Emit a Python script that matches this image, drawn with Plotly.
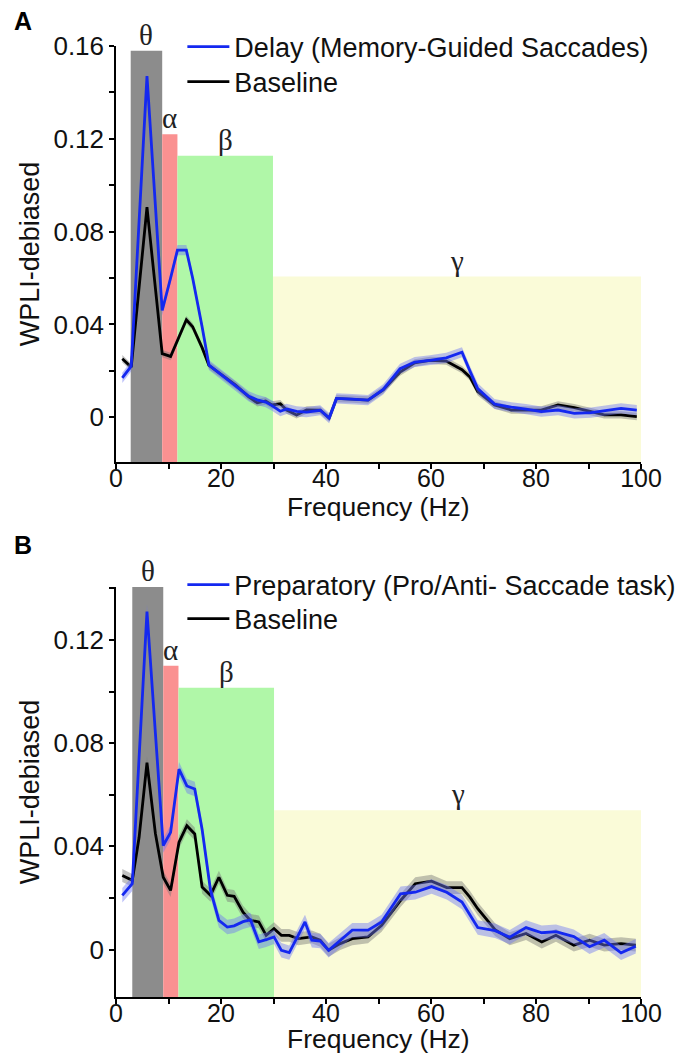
import plotly.graph_objects as go

# ---------------- Panel A data ----------------
freq_A = [1.2, 2.9, 5.9, 8.8, 10.4, 11.7, 13.4, 14.6, 16.4, 17.7, 20.2, 22.8, 25.3, 26.9, 28.5,
          29.7, 31.3, 32.5, 34.4, 36.3, 38.9, 40.6, 42.0, 45.0, 48.0, 50.9, 54.1, 56.9, 59.8,
          62.9, 65.9, 67.4, 68.9, 72.1, 75.3, 78.1, 81.0, 84.2, 87.3, 90.5, 93.0, 96.2, 99.2]
delay_A = [0.017, 0.022, 0.147, 0.046, 0.060, 0.072, 0.072, 0.060, 0.039, 0.0225, 0.018, 0.0135,
           0.009, 0.0075, 0.0065, 0.005, 0.0026, 0.0036, 0.0025, 0.0022, 0.003, -0.0004, 0.0081,
           0.0078, 0.0074, 0.012, 0.0209, 0.0238, 0.0245, 0.0256, 0.028, 0.020, 0.0124, 0.0057,
           0.0043, 0.0035, 0.0024, 0.0031, 0.0017, 0.002, 0.0027, 0.0038, 0.0031]
base_A = [0.0252, 0.0216, 0.0905, 0.0274, 0.0262, 0.033, 0.042, 0.039, 0.030, 0.0224, 0.0181,
          0.0138, 0.0088, 0.0062, 0.007, 0.0053, 0.0058, 0.0031, 0.001, 0.0031, 0.003, -0.0004,
          0.0081, 0.0078, 0.0074, 0.0118, 0.0195, 0.0234, 0.0245, 0.0242, 0.0205, 0.0174, 0.011,
          0.0053, 0.0031, 0.0031, 0.0031, 0.0053, 0.0041, 0.0024, 0.001, 0.001, 0.0003]
delay_err_A = 0.0022
base_err_A = 0.0016

# ---------------- Panel B data ----------------
freq_B = [1.2, 3.1, 4.4, 5.9, 7.5, 9.0, 10.4, 12.0, 13.5, 15.0, 16.4, 18.0, 19.6, 21.2, 22.5,
          24.2, 25.6, 27.2, 28.6, 30.1, 31.5, 33.0, 34.7, 36.0, 37.3, 38.9, 40.5, 42.7, 45.0,
          48.0, 50.6, 54.2, 57.0, 60.1, 63.0, 65.9, 67.4, 68.9, 72.2, 75.0, 78.1, 81.1, 83.8,
          87.2, 90.2, 93.0, 96.2, 99.0]
prep_B = [0.021, 0.0255, 0.0745, 0.131, 0.084, 0.0403, 0.0454, 0.0699, 0.0634, 0.0622, 0.0466,
          0.023, 0.0113, 0.0087, 0.0092, 0.0108, 0.0115, 0.003, 0.0038, 0.0049, -0.0003,
          -0.0012, 0.0055, 0.0107, 0.0036, 0.0033, -0.0003, 0.0035, 0.0075, 0.0075, 0.0107,
          0.0216, 0.0222, 0.0244, 0.0222, 0.0184, 0.0132, 0.0085, 0.0073, 0.0048, 0.0085,
          0.0065, 0.0069, 0.005, 0.0011, 0.0036, -0.0013, 0.0013]
base_B = [0.0287, 0.0268, 0.0435, 0.0724, 0.045, 0.028, 0.0229, 0.0416, 0.048, 0.0448, 0.0242,
          0.021, 0.028, 0.021, 0.0206, 0.0145, 0.0113, 0.0107, 0.0055, 0.0081, 0.0055, 0.0055,
          0.0042, 0.0045, 0.0049, 0.0036, -0.0003, 0.0023, 0.0042, 0.0049, 0.0094, 0.019,
          0.0255, 0.0265, 0.024, 0.024, 0.0203, 0.0158, 0.0077, 0.0042, 0.0062, 0.0029, 0.0055,
          0.0017, 0.0036, 0.0017, 0.0023, 0.0017]
prep_err_B = 0.0028
base_err_B = 0.0025

# ---------------- Frequency bands ----------------
band_names = ["θ", "α", "β", "γ"]
band_edges_A = [2.8, 8.8, 11.7, 29.9, 100]
band_tops_A = [0.158, 0.122, 0.1127, 0.0606]
band_edges_B = [3.1, 9.0, 11.9, 30.1, 100]
band_tops_B = [0.1405, 0.110, 0.1015, 0.054]
band_colors = ["#8c8c8c", "#fa9191", "#b0f7a8", "#fafbd8"]

FONT = "Liberation Sans, Arial, sans-serif"
GREEK_FONT = "Liberation Serif, Times New Roman, serif"

fig = go.Figure()


def add_band_shapes(edges, tops, xref, yref):
    for i in range(len(tops)):
        fig.add_shape(type="rect", xref=xref, yref=yref, x0=edges[i], x1=edges[i + 1],
                      y0=-1, y1=tops[i], fillcolor=band_colors[i], line_width=0, layer="below")
        fig.add_annotation(xref=xref, yref=yref, x=(edges[i] + edges[i + 1]) / 2, y=tops[i],
                           text=band_names[i], showarrow=False, yanchor="bottom", yshift=-2,
                           font=dict(family=GREEK_FONT, size=29, color="#222"))


def add_series(x, y, err, color, band_color, name, xa, ya, legend):
    up = [v + err for v in y]
    lo = [v - err for v in y]
    fig.add_trace(go.Scatter(x=x + x[::-1], y=up + lo[::-1], fill="toself", fillcolor=band_color,
                             line=dict(width=0), hoverinfo="skip", showlegend=False,
                             xaxis=xa, yaxis=ya))
    fig.add_trace(go.Scatter(x=x, y=y, mode="lines", line=dict(color=color, width=2.8),
                             name=name, xaxis=xa, yaxis=ya, legend=legend))


add_band_shapes(band_edges_A, band_tops_A, "x", "y")
add_band_shapes(band_edges_B, band_tops_B, "x2", "y2")

add_series(freq_A, base_A, base_err_A, "#000000", "rgba(120,120,120,0.45)", "Baseline", "x", "y", "legend2")
add_series(freq_A, delay_A, delay_err_A, "#1428f0", "rgba(110,120,245,0.45)",
           "Delay (Memory-Guided Saccades)", "x", "y", "legend")
add_series(freq_B, base_B, base_err_B, "#000000", "rgba(120,120,120,0.45)", "Baseline", "x2", "y2", "legend4")
add_series(freq_B, prep_B, prep_err_B, "#1428f0", "rgba(110,120,245,0.45)",
           "Preparatory (Pro/Anti- Saccade task)", "x2", "y2", "legend3")

xaxis_common = dict(range=[0, 100], showline=True, linecolor="black", linewidth=1.5,
                    ticks="outside", ticklen=5, tickwidth=1.5, tickcolor="black",
                    tickmode="array", tickvals=[0, 20, 40, 60, 80, 100],
                    minor=dict(tickmode="linear", tick0=0, dtick=10, ticks="outside",
                               ticklen=5, tickwidth=1.5, tickcolor="black", showgrid=False),
                    showgrid=False, zeroline=False, automargin=False,
                    ticklabelstandoff=-12,
                    tickfont=dict(family=FONT, size=25, color="#111"))
yaxis_common = dict(showline=True, linecolor="black", linewidth=1.5,
                    ticks="outside", ticklen=5, tickwidth=1.5, tickcolor="black",
                    tickmode="array", tickvals=[0, 0.04, 0.08, 0.12, 0.16],
                    ticktext=["0", "0.04", "0.08", "0.12", "0.16"],
                    minor=dict(tickmode="linear", tick0=0, dtick=0.02, ticks="outside",
                               ticklen=5, tickwidth=1.5, tickcolor="black", showgrid=False),
                    showgrid=False, zeroline=False, automargin=False,
                    tickfont=dict(family=FONT, size=26, color="#111"),
                    title=dict(text="WPLI-debiased", font=dict(family=FONT, size=27, color="#111"),
                               standoff=6))

# page is offset by the browser's 8px body margin
OFF = 8
W = 683 - OFF
H = 1057 - OFF
top_m = 46 - OFF
bot_m = H - (997 - OFF)
ph = H - top_m - bot_m
left_m = 115.5 - OFF
right_m = W - (641.5 - OFF)


def py(pix):
    # pix: page pixel y in the reference
    return (H - bot_m - (pix - OFF)) / ph


def px(pix):
    return (pix - OFF - left_m) / (W - left_m - right_m)


def legend_at(xpix, ypix):
    return dict(x=px(xpix), y=py(ypix), xanchor="left", yanchor="middle",
                bgcolor="rgba(0,0,0,0)", font=dict(family=FONT, size=27, color="#111"),
                itemwidth=42, borderwidth=0)


fig.update_layout(
    width=W, height=H,
    margin=dict(l=left_m, r=right_m, t=top_m, b=bot_m, autoexpand=False),
    plot_bgcolor="white", paper_bgcolor="white",
    xaxis=dict(domain=[0, 1], anchor="y", **xaxis_common),
    yaxis=dict(domain=[py(462), 1], anchor="x", range=[-0.0193, 0.16], **yaxis_common),
    xaxis2=dict(domain=[0, 1], anchor="y2", **xaxis_common),
    yaxis2=dict(domain=[0, py(587)], anchor="x2", range=[-0.0184, 0.1405], **yaxis_common),
    legend=legend_at(182, 47),
    legend2=legend_at(182, 82),
    legend3=legend_at(182, 585),
    legend4=legend_at(182, 619),
    showlegend=True,
)

# x-axis titles
for ypix in (507, 1039):
    fig.add_annotation(xref="paper", yref="paper", x=px(379), y=py(ypix), text="Frequency (Hz)",
                       showarrow=False, xanchor="center", yanchor="middle", borderpad=0,
                       font=dict(family=FONT, size=26.5, color="#111"))

fig.add_annotation(xref="paper", yref="paper", x=px(11), y=py(21), text="<b>A</b>",
                   showarrow=False, xanchor="left", yanchor="middle",
                   font=dict(family=FONT, size=25, color="black"))
fig.add_annotation(xref="paper", yref="paper", x=px(11), y=py(545), text="<b>B</b>",
                   showarrow=False, xanchor="left", yanchor="middle",
                   font=dict(family=FONT, size=25, color="black"))

fig.write_html("out.html")
